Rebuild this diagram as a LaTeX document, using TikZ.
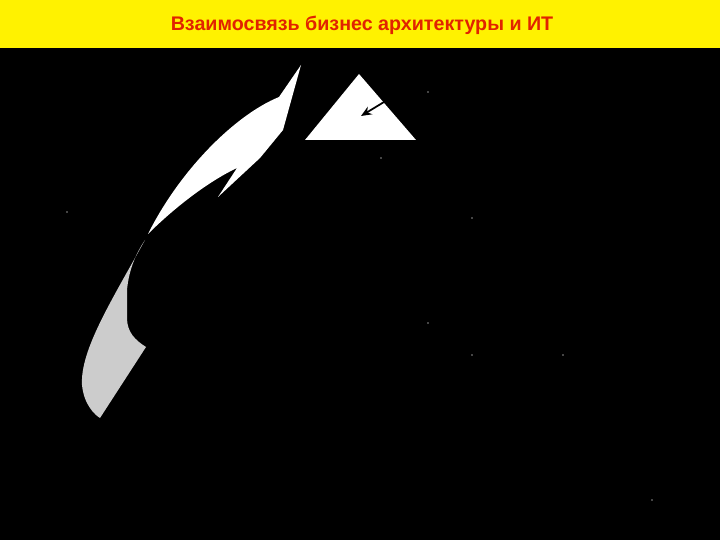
\documentclass[tikz,border=0pt]{standalone}
\usepackage{fontspec}
\setmainfont{Liberation Sans}
\usetikzlibrary{arrows.meta}
\definecolor{titlered}{RGB}{225,35,0}
\definecolor{shaftgrey}{RGB}{204,204,204}
\begin{document}
\begin{tikzpicture}[>=stealth,line join=round,line cap=round,x=0.02cm,y=-0.02cm]
\fill[black](0,0)rectangle(720,540);
\fill[yellow](0,0)rectangle(720,48);
\node[text=titlered,font=\fontsize{11.2}{13}\selectfont\bfseries](title) at (362,25){Взаимосвязь бизнес архитектуры и ИТ};
% lower grey part of the bent arrow
\fill[shaftgrey](145,240)..controls(112,300)and(80,350)..(82,385)
..controls(84,405)and(95,415)..(100,418)--(146,347)
..controls(135,340)and(127,332)..(127,318)--(127,290)
..controls(129,268)and(137,252)..(145,240)--cycle;
% upper white part with the head
\fill[white](301,65)--(279,97)..controls(235,115)and(180,170)..(148,234)
..controls(170,212)and(205,183)..(237,168)--(218,197)--(260,158)--(283,130)--cycle;
% triangle
\fill[white](359,74)--(305,140)--(416,140)--cycle;
\coordinate(from)at(384,102);
\coordinate(to)at(361,116);
\draw[-{Stealth[length=6pt,width=5pt]},black,line width=1pt](from)--(to);
% specks
\foreach \p in {(428,92),(381,158),(67,212),(472,218),(428,323),(472,355),(563,355),(652,500)}
\fill[white!55!black]\p circle(0.8);
\end{tikzpicture}
\end{document}
